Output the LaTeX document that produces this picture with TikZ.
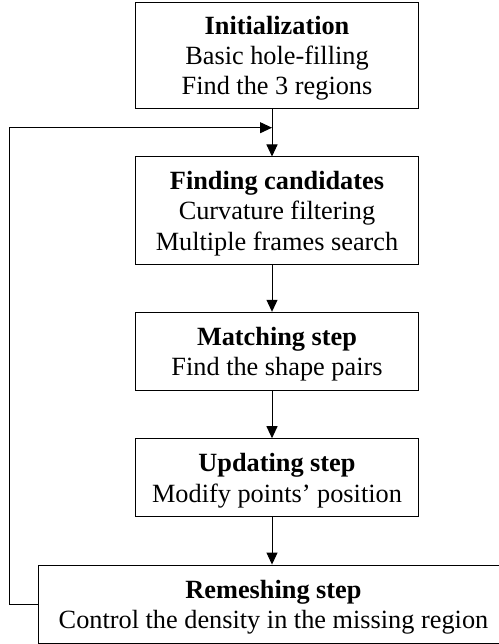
\documentclass[tikz,border=0pt]{standalone}
\usepackage{fontspec}
\setmainfont{Liberation Serif}
\usetikzlibrary{arrows.meta}
\begin{document}
\begin{tikzpicture}[x=1pt,y=-1pt,
  stepbox/.style={draw,line width=1pt,inner sep=0pt},
  steptext/.style={inner sep=0pt,align=center,yshift=-3pt,
    font=\fontsize{26.3}{30.3}\selectfont},
  conn/.style={line width=1pt,-{Triangle[length=12pt,width=11pt]}}]
\useasboundingbox (0,0) rectangle (498,644);
\node[stepbox,minimum width=282.5pt,minimum height=106pt,
  label={[steptext]center:{\textbf{Initialization}\\Basic hole-filling\\Find the 3 regions}}] (init) at (277,55.3) {};
\node[stepbox,minimum width=282.5pt,minimum height=107pt,
  label={[steptext]center:{\textbf{Finding candidates}\\Curvature filtering\\Multiple frames search}}] (cand) at (277,210.5) {};
\node[stepbox,minimum width=282.5pt,minimum height=78pt,
  label={[steptext]center:{\textbf{Matching step}\\Find the shape pairs}}] (match) at (277,351.3) {};
\node[stepbox,minimum width=282.5pt,minimum height=78pt,
  label={[steptext]center:{\textbf{Updating step}\\Modify points' position}}] (upd) at (277,477.7) {};
\node[stepbox,minimum width=470.4pt,minimum height=78.3pt,
  label={[steptext]center:{\textbf{Remeshing step}\\Control the density in the missing region}}] (rem) at (273.5,604.2) {};
\coordinate (cx) at (272,0);
\coordinate (join) at (cx |- 0,127.7);
\draw[conn] (cx |- init.south) -- (cx |- cand.north);
\draw[conn] (cx |- cand.south) -- (cx |- match.north);
\draw[conn] (cx |- match.south) -- (cx |- upd.north);
\draw[conn] (cx |- upd.south) -- (cx |- rem.north);
\draw[conn] (rem.west) -- (9.3,604.2) -- (9.3,127.7) -- (join);
\end{tikzpicture}
\end{document}
